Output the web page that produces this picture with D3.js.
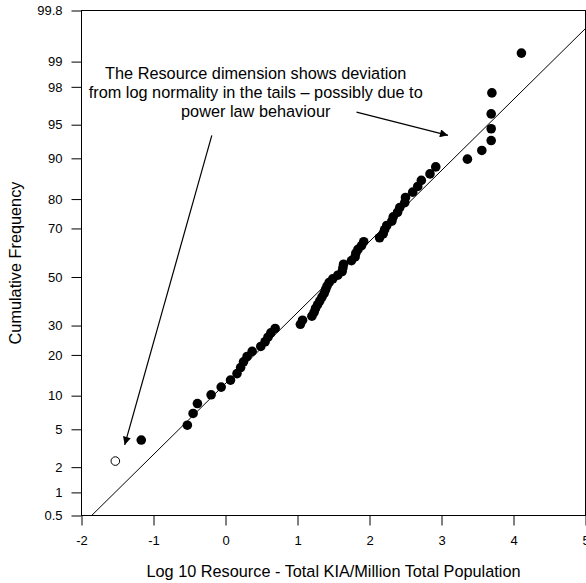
<!DOCTYPE html>
<html>
<head>
<meta charset="utf-8">
<script src="https://cdn.jsdelivr.net/npm/d3@7"></script>
<style>
  body { margin: 0; background: #fff; }
  svg { display: block; font-family: Arial, "Liberation Sans", sans-serif; }
  .axis text { font-size: 13px; fill: #000; }
  .axis line, .axis path { stroke: #000; }
  .title { font-size: 16.3px; fill: #000; }
  .note { font-size: 16.3px; fill: #000; }
</style>
</head>
<body>
<div id="chart"></div>
<script>
// Normal probability plot of log10 resource (KIA per million population).
const xTicks = [-2, -1, 0, 1, 2, 3, 4, 5];
const yTicks = [0.5, 1, 2, 5, 10, 20, 30, 50, 70, 80, 90, 95, 98, 99, 99.8];

// filled points: log10 value and cumulative frequency (%)
const ptX = [-1.17, -0.53, -0.45, -0.39, -0.20, -0.06, 0.07, 0.16, 0.21, 0.25,
  0.30, 0.37, 0.49, 0.55, 0.59, 0.63, 0.69, 1.04, 1.07, 1.20,
  1.23, 1.25, 1.28, 1.31, 1.34, 1.37, 1.39, 1.41, 1.44, 1.49,
  1.56, 1.62, 1.63, 1.64, 1.75, 1.80, 1.81, 1.84, 1.89, 1.92,
  2.14, 2.19, 2.21, 2.24, 2.31, 2.33, 2.39, 2.42, 2.49, 2.50,
  2.60, 2.67, 2.72, 2.84, 2.92, 3.36, 3.56, 3.69, 3.69, 3.69,
  3.70, 4.11];
const ptP = [3.91, 5.47, 7.03, 8.59, 10.16, 11.72, 13.28, 14.84, 16.41, 17.97,
  19.53, 21.09, 22.66, 24.22, 25.78, 27.34, 28.91, 30.47, 32.03, 33.59,
  35.16, 36.72, 38.28, 39.84, 41.41, 42.97, 44.53, 46.09, 47.66, 49.22,
  50.78, 52.34, 53.91, 55.47, 57.03, 58.59, 60.16, 61.72, 63.28, 64.84,
  66.41, 67.97, 69.53, 71.09, 72.66, 74.22, 75.78, 77.34, 78.91, 80.47,
  82.03, 83.59, 85.16, 86.72, 88.28, 89.84, 91.41, 92.97, 94.53, 96.09,
  97.66, 99.22];

// open (excluded) point
const openX = [-1.53];
const openP = [2.34];

// fitted log-normal line
const fitMean = 1.5;
const fitSD = 1.304;

const noteLines = [
  "The Resource dimension shows deviation",
  "from log normality in the tails \u2013 possibly due to",
  "power law behaviour"
];
// arrows in data units: [x1, p1, x2, p2]
const arrows = [
  [-0.19, 93.7, -1.40, 3.49],
  [1.82, 96.25, 3.09, 93.7]
];

// inverse standard normal CDF (Acklam)
function probit(p) {
  const a = [-3.969683028665376e+01, 2.209460984245205e+02, -2.759285104469687e+02, 1.383577518672690e+02, -3.066479806614716e+01, 2.506628277459239e+00];
  const b = [-5.447609879822406e+01, 1.615858368580409e+02, -1.556989798598866e+02, 6.680131188771972e+01, -1.328068155288572e+01];
  const c = [-7.784894002430293e-03, -3.223964580411365e-01, -2.400758277161838e+00, -2.549671010115161e+00, 4.374664141464968e+00, 2.938163982698783e+00];
  const d = [7.784695709041462e-03, 3.224671290700398e-01, 2.445134137142996e+00, 3.754408661907416e+00];
  const pl = 0.02425;
  let q, r;
  if (p < pl) {
    q = Math.sqrt(-2 * Math.log(p));
    return (((((c[0]*q+c[1])*q+c[2])*q+c[3])*q+c[4])*q+c[5]) / ((((d[0]*q+d[1])*q+d[2])*q+d[3])*q+1);
  }
  if (p <= 1 - pl) {
    q = p - 0.5; r = q * q;
    return (((((a[0]*r+a[1])*r+a[2])*r+a[3])*r+a[4])*r+a[5])*q / (((((b[0]*r+b[1])*r+b[2])*r+b[3])*r+b[4])*r+1);
  }
  q = Math.sqrt(-2 * Math.log(1 - p));
  return -(((((c[0]*q+c[1])*q+c[2])*q+c[3])*q+c[4])*q+c[5]) / ((((d[0]*q+d[1])*q+d[2])*q+d[3])*q+1);
}
const zOf = (pct) => probit(pct / 100);

const width = 586, height = 583;
const m = { top: 10.5, right: 0.5, bottom: 67.5, left: 81.5 };
const iW = width - m.left - m.right;
const iH = height - m.top - m.bottom;

const x = d3.scaleLinear([-2, 5], [0, iW]);
const y = d3.scaleLinear([zOf(0.5), zOf(99.8)], [iH, 0]);

const svg = d3.select("#chart").append("svg")
  .attr("width", width).attr("height", height);
const g = svg.append("g").attr("transform", `translate(${m.left},${m.top})`);

svg.append("defs").call((defs) => {
  defs.append("clipPath").attr("id", "plot-clip").append("rect")
    .attr("width", iW).attr("height", iH);
  defs.append("marker").attr("id", "arrowhead")
    .attr("viewBox", "0 0 10 10").attr("refX", 10).attr("refY", 5)
    .attr("markerWidth", 10).attr("markerHeight", 8).attr("markerUnits", "userSpaceOnUse")
    .attr("orient", "auto")
    .append("path").attr("d", "M0,0 L10,5 L0,10 Z").attr("fill", "#000");
});

// axes (plain hyphen for negatives, as in the original)
g.append("g").attr("class", "axis").attr("transform", `translate(0,${iH})`)
  .call(d3.axisBottom(x).tickValues(xTicks).tickSize(10).tickSizeOuter(0).tickPadding(10)
    .tickFormat((d) => String(d)))
  .call((a) => a.select(".domain").remove());
g.append("g").attr("class", "axis")
  .call(d3.axisLeft(y).tickValues(yTicks.map(zOf)).tickSize(10).tickSizeOuter(0).tickPadding(9)
    .tickFormat((d, i) => yTicks[i]))
  .call((a) => a.select(".domain").remove());

// frame
g.append("rect").attr("width", iW).attr("height", iH)
  .attr("fill", "none").attr("stroke", "#000").attr("stroke-width", 1);

// fitted line
const fitLine = d3.line().x((v) => x(v)).y((v) => y((v - fitMean) / fitSD));
g.append("path").datum([-2, 5]).attr("clip-path", "url(#plot-clip)")
  .attr("d", fitLine).attr("fill", "none").attr("stroke", "#000").attr("stroke-width", 1);

// points
g.append("g").selectAll("circle").data(ptX).join("circle")
  .attr("cx", (d) => x(d)).attr("cy", (d, i) => y(zOf(ptP[i])))
  .attr("r", 4.8).attr("fill", "#000");
g.append("g").selectAll("circle").data(openX).join("circle")
  .attr("cx", (d) => x(d)).attr("cy", (d, i) => y(zOf(openP[i])))
  .attr("r", 4.3).attr("fill", "#fff").attr("stroke", "#000").attr("stroke-width", 1);

// annotation
const note = g.append("text").attr("class", "note").attr("text-anchor", "middle");
note.selectAll("tspan").data(noteLines).join("tspan")
  .attr("x", x(0.42)).attr("y", (d, i) => 68.5 + i * 19).text((d) => d);
g.append("g").selectAll("line").data(arrows).join("line")
  .attr("x1", (d) => x(d[0])).attr("y1", (d) => y(zOf(d[1])))
  .attr("x2", (d) => x(d[2])).attr("y2", (d) => y(zOf(d[3])))
  .attr("stroke", "#000").attr("stroke-width", 1.2).attr("marker-end", "url(#arrowhead)");

// axis titles
g.append("text").attr("class", "title").attr("text-anchor", "middle")
  .attr("x", iW / 2).attr("y", iH + 61).text("Log 10 Resource - Total KIA/Million Total Population");
g.append("text").attr("class", "title").attr("text-anchor", "middle")
  .attr("transform", `translate(${21 - m.left},${iH / 2}) rotate(-90)`).text("Cumulative Frequency");
</script>
</body>
</html>
